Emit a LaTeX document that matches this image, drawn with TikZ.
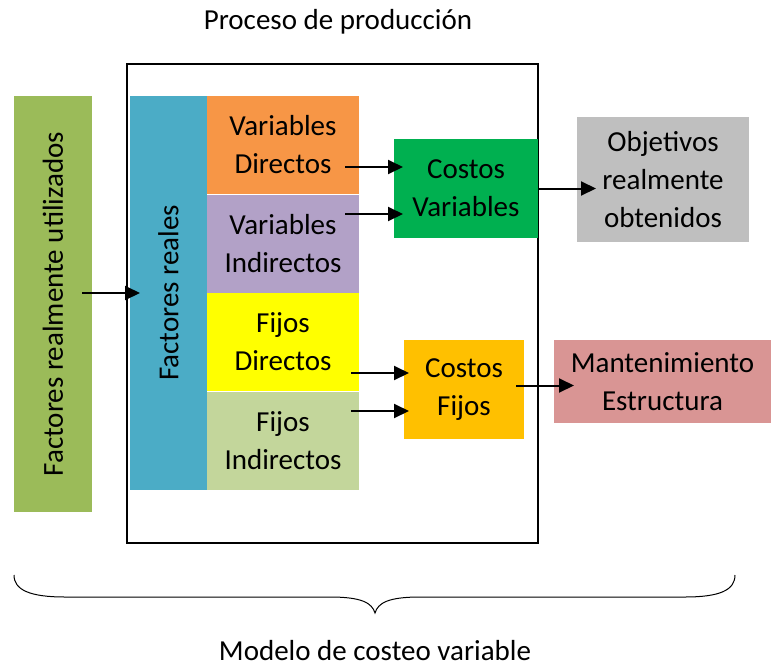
\documentclass[tikz,border=0pt]{standalone}
\usepackage{fontspec}
\setmainfont{Carlito}
\usetikzlibrary{arrows.meta, shapes, positioning, calc}

\definecolor{utilgreen}{HTML}{9BBB59}
\definecolor{realblue}{HTML}{4BACC6}
\definecolor{vdorange}{HTML}{F79646}
\definecolor{vipurple}{HTML}{B2A1C7}
\definecolor{fdyellow}{HTML}{FFFF00}
\definecolor{figreen}{HTML}{C3D69B}
\definecolor{cvgreen}{HTML}{00B050}
\definecolor{objgray}{HTML}{BFBFBF}
\definecolor{cfamber}{HTML}{FFC000}
\definecolor{mantrose}{HTML}{D99594}

\begin{document}
\begin{tikzpicture}[
  x=1pt, y=-1pt,
  every node/.style={font=\fontsize{29}{38}\selectfont},
  line/.style={draw, -{Triangle[length=15pt,width=14pt]}, line width=2pt},
  box/.style={rectangle, align=center, inner sep=0pt, outer sep=0pt,
              minimum width=152pt, minimum height=98pt},
  vbox/.style={rectangle, align=center, inner sep=0pt, outer sep=0pt, rotate=90},
  extbox/.style={rectangle, draw, line width=1.5pt, inner sep=0pt,
              minimum width=411pt, minimum height=479pt}
]
\useasboundingbox (0,0) rectangle (772,667);

% =======================================================
%                     MAIN COMPONENTS
% =======================================================
\node[extbox] (proceso) at (332.5,303.5) {};
\node (titulo) at (338,22) {Proceso de producción};

\node[vbox, fill=utilgreen, minimum width=416pt, minimum height=78pt] (util) at (53,304) {Factores realmente utilizados};
\node[vbox, fill=realblue, minimum width=394pt, minimum height=77pt] (reales) at (168.5,293) {Factores reales};

% cost categories
\node[box, fill=vdorange] (vd) at (283,145) {Variables\\Directos};
\node[box, fill=vipurple] (vi) at (283,243.5) {Variables\\Indirectos};
\node[box, fill=fdyellow] (fd) at (283,342) {Fijos\\Directos};
\node[box, fill=figreen] (fi) at (283,440.5) {Fijos\\Indirectos};

% costs and results
\node[box, fill=cvgreen, minimum width=144pt, minimum height=99pt] (cv) at (466,188.5) {Costos\\Variables};
\node[box, fill=cfamber, minimum width=120pt, minimum height=99pt] (cf) at (464,389.5) {Costos\\Fijos};
\node[box, fill=objgray, minimum width=172pt, minimum height=125pt] (obj) at (663,179.5) {Objetivos\\realmente\\obtenidos};
\node[box, fill=mantrose, minimum width=217pt, minimum height=83pt] (mant) at (662.5,381.5) {Mantenimiento\\Estructura};

% =======================================================
%                     CONNECTIONS
% =======================================================
\draw[line] ($(util.south |- reales.center)+(-10,0)$) -- ($(reales.north |- reales.center)+(10,0)$);

% categories -> costs
\draw[line] ($(vd.east)+(-14,22)$) -- ($(cv.west |- vd.east)+(9,22)$);
\draw[line] ($(vi.east)+(-14,-29.5)$) -- ($(cv.west |- vi.east)+(9,-29.5)$);
\draw[line] ($(fd.east)+(-8,31)$) -- ($(cf.west |- fd.east)+(5,31)$);
\draw[line] ($(fi.east)+(-8,-29.5)$) -- ($(cf.west |- fi.east)+(5,-29.5)$);

% costs -> results
\draw[line] (cv.east) -- ($(obj.west |- cv.east)+(19,0)$);
\draw[line] ($(cf.east)+(-8,-4)$) -- ($(mant.west |- cf.east)+(20,-4)$);

% brace
\coordinate (bl) at (14,575);
\coordinate (br) at (735,575);
\coordinate (bm) at (375,613);
\draw[line width=1pt] (bl) .. controls (14,590) and (30,597) .. (65,597) -- (330,597)
  .. controls (362,597) and (372,603) .. (bm)
  .. controls (378,603) and (388,597) .. (420,597) -- (685,597)
  .. controls (720,597) and (735,590) .. (br);
\node (modelo) at (375,651) {Modelo de costeo variable};

\end{tikzpicture}
\end{document}
